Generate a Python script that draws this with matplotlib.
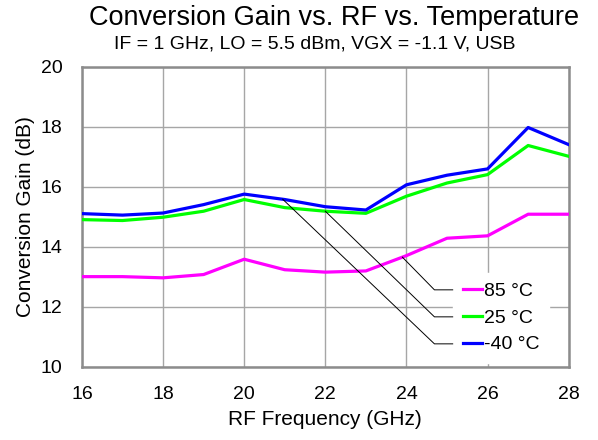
import matplotlib
matplotlib.use("Agg")
from matplotlib import pyplot as plt
import numpy as np

plt.rcParams['font.family'] = ['Liberation Sans', 'DejaVu Sans']

freq = [16, 17, 18, 19, 20, 21, 22, 23, 24, 25, 26, 27, 28]
gain_85 = [13.01, 13.01, 12.97, 13.08, 13.59, 13.24, 13.16, 13.20, 13.71, 14.29, 14.37, 15.09, 15.09]
gain_25 = [14.91, 14.88, 14.99, 15.19, 15.58, 15.31, 15.19, 15.12, 15.69, 16.13, 16.41, 17.38, 17.02]
gain_m40 = [15.11, 15.06, 15.13, 15.41, 15.76, 15.58, 15.34, 15.23, 16.07, 16.39, 16.60, 17.98, 17.41]
labels = ["85 °C", "25 °C", "-40 °C"]
colors = ["#ff00ff", "#00ff00", "#0000ff"]

fig = plt.figure(figsize=(5.98, 4.4), dpi=100, facecolor="white")
ax = fig.add_axes([0.137, 0.166, 0.814, 0.682])

series = [gain_85, gain_25, gain_m40]
handles = []
for vals, lab, col in zip(series, labels, colors):
    h, = ax.plot(freq, vals, color=col, lw=2.3, label=lab, zorder=3)
    handles.append(h)

ax.set_xlim(16, 28)
ax.set_ylim(10, 20)
ax.set_xticks(range(16, 29, 2))
ax.set_yticks(range(10, 21, 2))
ax.grid(True, color="#a6a6a6", lw=1.0)
ax.set_axisbelow(True)
ax.tick_params(length=0, labelsize=14)
ax.tick_params(axis="x", pad=14)
ax.tick_params(axis="y", pad=14)
for s in ax.spines.values():
    s.set_color("#8c8c8c")
    s.set_linewidth(1.8)

ax.set_xlabel("RF Frequency (GHz)", fontsize=15, labelpad=5)
ax.set_ylabel("Conversion Gain (dB)", fontsize=15, labelpad=4)

fig.text(0.558, 0.958, "Conversion Gain vs. RF vs. Temperature", ha="center", va="center", fontsize=19.5)
fig.text(0.527, 0.9, "IF = 1 GHz, LO = 5.5 dBm, VGX = -1.1 V, USB", ha="center", va="center", fontsize=14)

leg = ax.legend(handles=handles, loc="lower left", bbox_to_anchor=(0.762, 0.013),
                fontsize=14, frameon=True, fancybox=False, framealpha=1,
                edgecolor="white", handlelength=1.0, handletextpad=0.1,
                labelspacing=0.46, borderpad=0.5, borderaxespad=0)
leg.set_zorder(4)
for lh in leg.get_lines():
    lh.set_linewidth(2.3)

# leader lines from curves to legend entries
starts_x = [23.9, 22.0, 20.95]
elbow_x, end_x = 24.69, 25.14
rows_y = [12.57, 11.67, 10.77]
for vals, sx, ry in zip(series, starts_x, rows_y):
    sy = np.interp(sx, freq, vals)
    ax.plot([sx, elbow_x, end_x], [sy, ry, ry], color="black", lw=0.7, zorder=5)

plt.savefig("out.png", dpi=100)
